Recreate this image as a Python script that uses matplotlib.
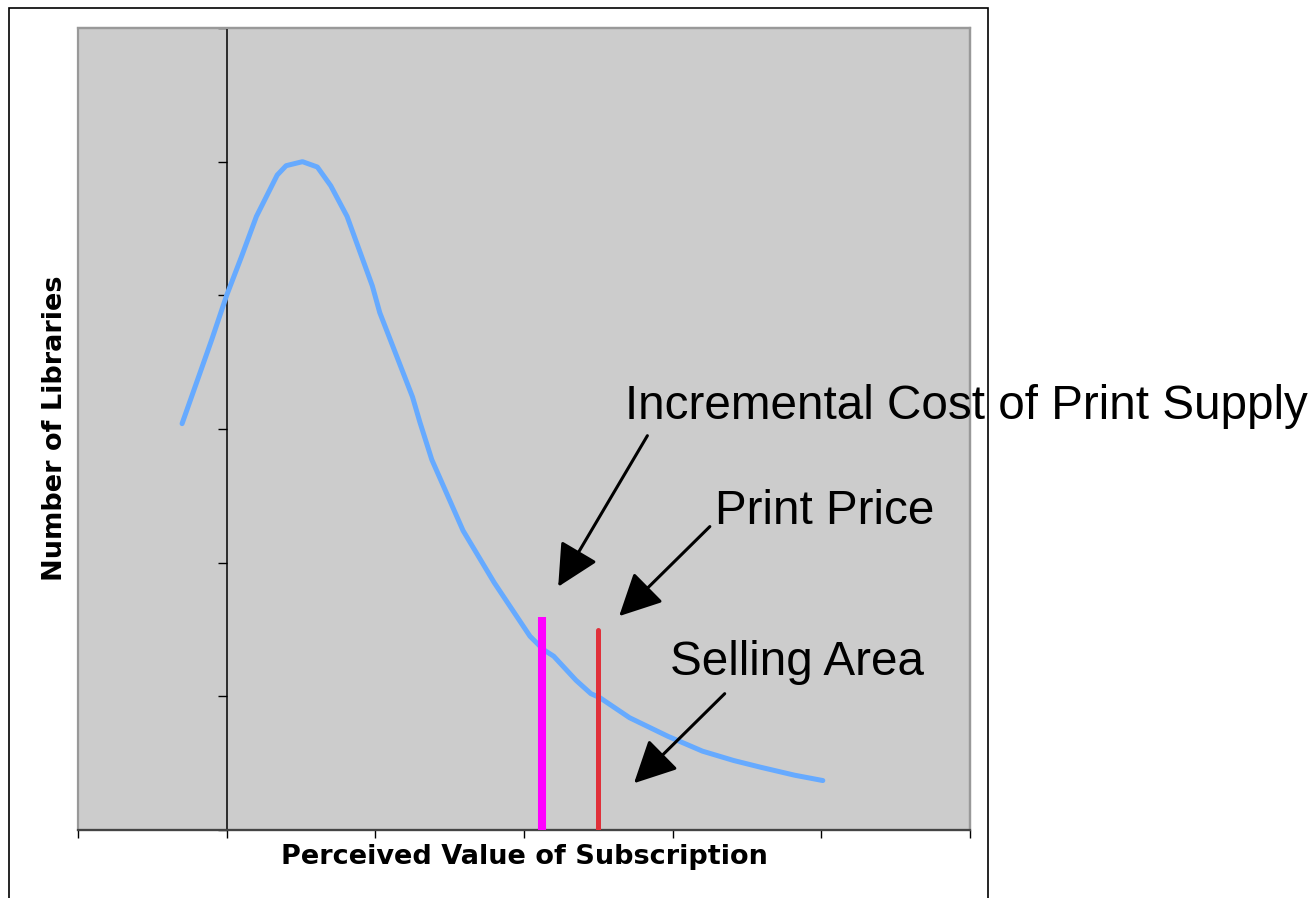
import numpy as np
import matplotlib
matplotlib.use("Agg")
import matplotlib.pyplot as plt
from matplotlib.patches import Rectangle

plt.rcParams['font.family'] = ['Liberation Sans', 'DejaVu Sans']

# demand curve (x: perceived value, y: number of libraries)
curve_x = [0.70, 0.90, 1.00, 1.10, 1.20, 1.34, 1.40, 1.51, 1.61, 1.70, 1.81, 1.98, 2.03,
           2.25, 2.30, 2.38, 2.59, 2.80, 3.04, 3.13, 3.20, 3.35, 3.45, 3.51, 3.71, 3.97,
           4.20, 4.41, 4.59, 4.82, 5.01]
curve_y = [3.04, 3.67, 4.00, 4.29, 4.59, 4.90, 4.97, 5.00, 4.96, 4.82, 4.59, 4.07, 3.87,
           3.24, 3.05, 2.77, 2.24, 1.85, 1.45, 1.35, 1.30, 1.12, 1.02, 0.99, 0.84, 0.70,
           0.59, 0.52, 0.47, 0.41, 0.37]

cost_x, cost_top = 3.12, 1.59      # incremental cost of print supply
price_x, price_top = 3.50, 1.50    # print price

x_ticks = [0, 1, 2, 3, 4, 5, 6]
y_ticks = [0, 1, 2, 3, 4, 5, 6]

# annotations: text, text anchor (x, y), arrow tail, arrow head
labels = ["Incremental Cost of Print Supply", "Print Price", "Selling Area"]
label_pos = [(3.68, 3.17), (4.285, 2.38), (3.98, 1.25)]
arrow_tail = [(3.83, 2.95), (4.25, 2.27), (4.35, 1.02)]
arrow_head = [(3.23, 1.82), (3.64, 1.60), (3.74, 0.35)]

W, H = 1316, 898
fig = plt.figure(figsize=(W / 100, H / 100), dpi=100)
fig.patch.set_facecolor('white')

# outer chart frame (open at bottom)
fig.add_artist(Rectangle((8.5 / W, -0.05), (988 - 8.5) / W, 1.05 - 7.5 / H,
                         transform=fig.transFigure, fill=False, edgecolor='black', lw=1.2))

ax = fig.add_axes([78 / W, 68 / H, 892 / W, 802 / H])
ax.set_facecolor('#cccccc')
ax.set_xlim(0, 6)
ax.set_ylim(0, 6)

for s in ['top', 'right']:
    ax.spines[s].set_color('#999999')
    ax.spines[s].set_linewidth(1.6)
ax.spines['bottom'].set_color('#444444')
ax.spines['bottom'].set_linewidth(1.6)
ax.spines['left'].set_position(('data', 1))
ax.spines['left'].set_color('black')
ax.spines['left'].set_linewidth(1.1)
ax.add_patch(Rectangle((0, 0), 1, 1, transform=ax.transAxes, fill=False,
                       edgecolor='#999999', lw=1.6, zorder=0.5, clip_on=False))

ax.set_xticks(x_ticks)
ax.set_yticks(y_ticks)
ax.set_xticklabels([])
ax.set_yticklabels([])
ax.tick_params(axis='x', direction='out', length=6, width=1, color='black')
ax.tick_params(axis='y', direction='out', length=6.5, width=1, color='black')

ax.plot(curve_x, curve_y, color='#66aaff', lw=3.6, solid_capstyle='round', zorder=3)
ax.plot([cost_x, cost_x], [0, cost_top], color='#ff00ff', lw=5.8, solid_capstyle='butt', zorder=4)
ax.plot([price_x, price_x], [0, price_top], color='#e0303a', lw=3.6, solid_capstyle='round', zorder=4)

for txt, pos, tail, head in zip(labels, label_pos, arrow_tail, arrow_head):
    ax.text(pos[0], pos[1], txt, fontsize=34.3, va='center', ha='left', clip_on=False, zorder=6)
    ax.annotate('', xy=head, xytext=tail,
                arrowprops=dict(arrowstyle='-|>,head_length=1.3,head_width=0.65',
                                color='black', lw=2.2, mutation_scale=20,
                                shrinkA=0, shrinkB=0), zorder=5)

fig.text(55 / W, 1 - 428 / H, "Number of Libraries", rotation=90, fontsize=19.5,
         fontweight='bold', family='DejaVu Sans', ha='center', va='center')
fig.text(524 / W, 1 - 857 / H, "Perceived Value of Subscription", fontsize=19.5,
         fontweight='bold', family='DejaVu Sans', ha='center', va='center')

fig.savefig('out.png', dpi=100, facecolor='white')
